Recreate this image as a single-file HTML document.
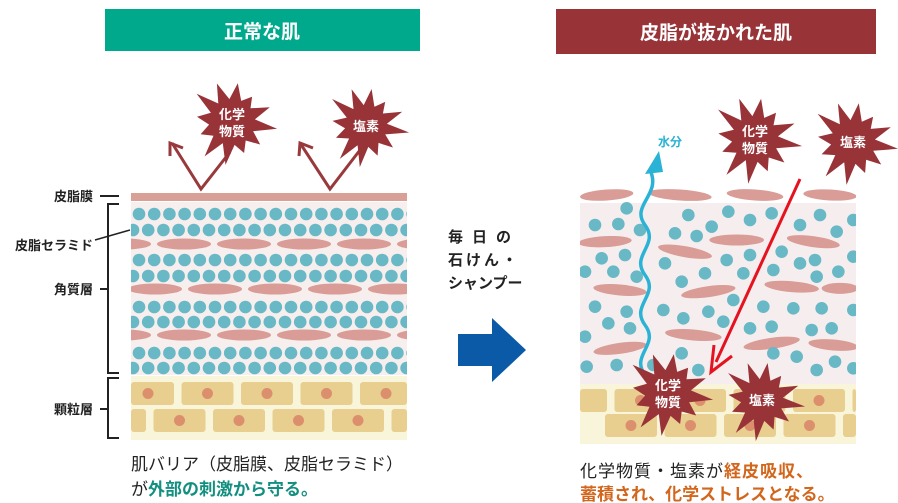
<!DOCTYPE html>
<html><head><meta charset="utf-8"><style>
body{margin:0;width:898px;height:503px;background:#fff;overflow:hidden;font-family:"Liberation Sans","Noto Sans CJK JP",sans-serif}
svg{position:absolute;left:0;top:0}
text{font-family:"Liberation Sans","Noto Sans CJK JP",sans-serif}
</style></head><body>
<svg id="s" width="898" height="503" viewBox="0 0 898 503">
<defs>
<clipPath id="cl"><rect x="131" y="202" width="276" height="174"/></clipPath>
<clipPath id="cr"><rect x="580" y="180" width="276" height="204"/></clipPath>
</defs>
<rect x="105" y="9" width="315" height="42" fill="#00a98c"/>
<text x="262" y="38" fill="#fff" font-size="19" font-weight="bold" text-anchor="middle">正常な肌</text>
<rect x="556" y="9" width="320" height="45" fill="#983338"/>
<text x="716" y="39" fill="#fff" font-size="19" font-weight="bold" text-anchor="middle">皮脂が抜かれた肌</text>
<rect x="131" y="193" width="276" height="8" fill="#d9a098"/>
<rect x="131" y="202" width="276" height="173" fill="#f7eeee"/>
<g id="lc" clip-path="url(#cl)"></g>
<rect x="131" y="376" width="276" height="64" fill="#f8f5da"/>
<g id="lg"></g>
<g stroke="#222" stroke-width="2" fill="none">
<line x1="100" y1="196" x2="119" y2="196"/>
<polyline points="119,204 108,204 108,373 119,373"/>
<line x1="100" y1="289" x2="108" y2="289"/>
<polyline points="119,378 108,378 108,438 119,438"/>
<line x1="100" y1="409" x2="108" y2="409"/>
<line x1="95" y1="240" x2="130" y2="230" stroke-width="1.5"/>
</g>
<g font-size="13" font-weight="bold" fill="#222" text-anchor="end">
<text x="93" y="201">皮脂膜</text>
<text x="93" y="250">皮脂セラミド</text>
<text x="93" y="294">角質層</text>
<text x="93" y="414">顆粒層</text>
</g>
<g stroke="#983a3c" stroke-width="3" fill="none">
<polyline points="172,143 201,189 230,152"/>
<polyline points="170,156 170,143 183,148"/>
<polyline points="300,143 330,189 360,150"/>
<polyline points="299,156 300,143 313,148"/>
</g>
<g id="stars"></g>
<g font-size="15" font-weight="bold" fill="#222">
<text x="448" y="242" letter-spacing="9">毎日の</text>
<text x="448" y="265" letter-spacing="3">石けん・</text>
<text x="448" y="288">シャンプー</text>
</g>
<polygon points="458,334 492,334 492,318 526,350 492,382 492,366 458,366" fill="#0a5aa8"/>
<rect x="580" y="203" width="276" height="181" fill="#f6eeee"/>
<rect x="580" y="384" width="276" height="60" fill="#f8f5da"/>
<g id="rg"></g>
<g id="rc" clip-path="url(#cr)"></g>
<path d="M645,375 C630,355 660,345 645,325 C630,305 660,295 645,275 C630,255 660,245 645,225 C630,205 662,195 650,170" stroke="#2bb3d5" stroke-width="3.5" fill="none"/>
<polygon points="645,174 663,172 659,151" fill="#2bb3d5"/>
<text x="658" y="146" font-size="12" font-weight="bold" fill="#2bb3d5">水分</text>
<line x1="800" y1="179" x2="716" y2="362" stroke="#e5131f" stroke-width="3"/>
<polyline points="714,345 711,372 732,356" stroke="#e5131f" stroke-width="3" fill="none"/>
<g id="stars2"></g>
<text x="131" y="470" font-size="17" fill="#222">肌バリア（皮脂膜、皮脂セラミド）</text>
<text x="131" y="495" font-size="17" fill="#222">が<tspan fill="#138f80" font-weight="bold">外部の刺激から守る。</tspan></text>
<text x="580" y="477" font-size="17" fill="#222" letter-spacing="1">化学物質・塩素が<tspan fill="#d2661c" font-weight="bold">経皮吸収、</tspan></text>
<text x="580" y="500" font-size="17" fill="#d2661c" font-weight="bold">蓄積され、化学ストレスとなる。</text>
</svg>
<script>
var NS="http://www.w3.org/2000/svg";
function el(p,t,a){var e=document.createElementNS(NS,t);for(var k in a)e.setAttribute(k,a[k]);document.getElementById(p).appendChild(e);return e;}
var rows=[214,230,260,276,307,322,353,368];
rows.forEach(function(y,i){var off=(i%2==0)?139:133;for(var x=off;x<415;x+=15.2){el("lc","circle",{cx:x,cy:y,r:6.3,fill:"#68b8c6"});}});
[[244,0],[289,1],[335,0]].forEach(function(r){var st=r[1]?155:124;for(var x=st-60;x<440;x+=60)el("lc","ellipse",{cx:x,cy:r[0],rx:27,ry:5.5,fill:"#d99c96"});});
function gran(g,x0,x1,y1,y2,offs){[[y1,offs[0]],[y2,offs[1]]].forEach(function(r){for(var x=r[1];x<x1;x+=59.5){var a=Math.max(x,x0),b=Math.min(x+52,x1);if(b>a){el(g,"rect",{x:a,y:r[0],width:b-a,height:23,rx:3,fill:"#e8cf8f"});var c=x+26;if(c>x0+6&&c<x1-6)el(g,"circle",{cx:c,cy:r[0]+11.5,r:5.5,fill:"#dc8f6c"});}}});}
gran("lg",131,407,382,409,[122,94]);
gran("rg",580,856,389,414,[555,605]);
var pc=[[170,385],[75,435],[145,432],[210,450],[355,405],[315,460],[380,468],[425,440],[475,395],[540,420],[605,400],[690,435],[750,405],[800,455],[850,420],[95,535],[165,525],[45,575],[130,575],[200,590],[285,550],[335,605],[405,580],[470,540],[540,525],[520,580],[635,515],[690,550],[735,540],[610,570],[740,590],[805,575],[850,530],[75,680],[170,695],[115,730],[180,745],[45,770],[280,690],[340,715],[415,695],[460,725],[490,660],[580,680],[670,685],[755,685],[850,690],[540,745],[605,740],[725,750],[785,745],[50,860],[140,855],[250,855],[335,820],[385,870],[610,820],[680,830],[740,870],[795,845],[850,865]];
var pe=[[110,345,80,-4],[330,345,95,4],[555,345,85,4],[780,345,80,3],[105,485,80,-3],[345,515,82,10],[500,480,82,0],[730,485,80,8],[150,630,80,5],[415,635,82,-8],[665,620,82,5],[810,625,55,0],[370,765,85,5],[150,805,80,-8],[605,790,85,-8],[790,795,75,5]];
pe.forEach(function(e){var cx=e[0]/3+570,cy=e[1]/3+80;el("rc","ellipse",{cx:cx,cy:cy,rx:e[2]/3,ry:5.5,fill:"#d99c96",transform:"rotate("+e[3]+" "+cx+" "+cy+")"});});
pc.forEach(function(p){el("rc","circle",{cx:p[0]/3+570,cy:p[1]/3+80,r:6.3,fill:"#68b8c6"});});
function star(g,cx,cy,R,r,n,lines){var pts=[];for(var i=0;i<2*n;i++){var a=Math.PI*i/n-Math.PI/2+0.15;var rr=i%2?r:R*(0.85+0.15*Math.sin(i*2.3));pts.push((cx+rr*Math.cos(a)).toFixed(1)+","+(cy+rr*Math.sin(a)).toFixed(1));}
el(g,"polygon",{points:pts.join(" "),fill:"#983338"});
lines.forEach(function(t,k){var e=el(g,"text",{x:cx,y:cy+(lines.length==1?5:(k==0?-3:14)),fill:"#fff","font-size":13,"font-weight":"bold","text-anchor":"middle"});e.textContent=t;});}
star("stars",232,122,46,23,12,["化学","物質"]);
star("stars",366,126,44,21,12,["塩素"]);
star("stars2",755,139,48,23,12,["化学","物質"]);
star("stars2",853,142,46,22,12,["塩素"]);
star("stars2",668,393,46,23,12,["化学","物質"]);
star("stars2",762,400,44,21,12,["塩素"]);
</script>
</body></html>
